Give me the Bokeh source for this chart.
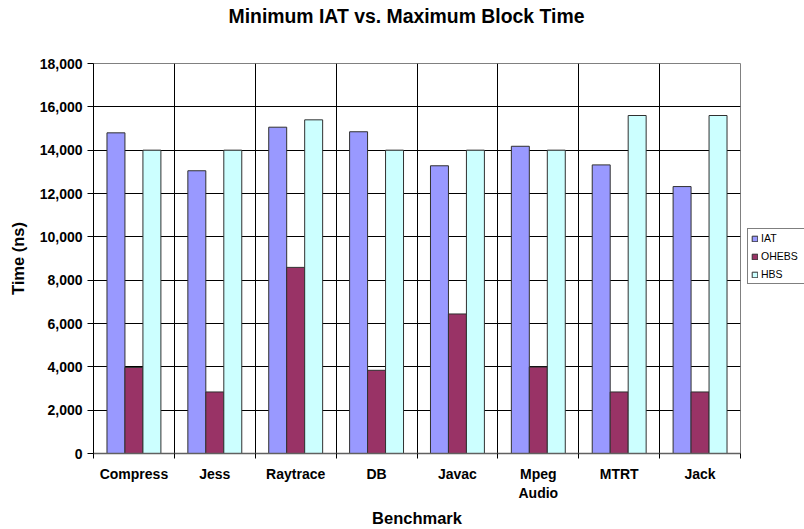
import numpy as np
from bokeh.plotting import figure
from bokeh.models import (ColumnDataSource, Range1d, FixedTicker, NumeralTickFormatter,
                          Legend, LegendItem, Title)
from bokeh.transform import dodge
from bokeh.embed import file_html
from bokeh.resources import INLINE

# ---- data ----
categories = ["Compress", "Jess", "Raytrace", "DB", "Javac", "Mpeg\nAudio", "MTRT", "Jack"]
series_names = ["IAT", "OHEBS", "HBS"]
iat = [14800, 13050, 15060, 14850, 13280, 14180, 13320, 12320]
ohebs = [3970, 2840, 8590, 3840, 6440, 3990, 2840, 2840]
hbs = [14000, 14000, 15400, 14000, 14000, 14000, 15600, 15600]
y_ticks = [0, 2000, 4000, 6000, 8000, 10000, 12000, 14000, 16000, 18000]

FONT = "Liberation Sans"
colors = ["#9999FF", "#993366", "#CCFFFF"]

n = len(categories)
centers = (np.arange(n) + 0.5).tolist()
src = ColumnDataSource(dict(x=centers, IAT=iat, OHEBS=ohebs, HBS=hbs))

p = figure(frame_width=647, frame_height=390,
           min_border_left=93, min_border_right=64, min_border_top=63, min_border_bottom=76,
           x_range=Range1d(0, n), y_range=Range1d(0, 18000),
           output_backend="svg", toolbar_location=None,
           title="Minimum IAT vs. Maximum Block Time")
p.background_fill_color = "white"
p.border_fill_color = "white"
p.outline_line_color = "#808080"
p.outline_line_width = 1

p.title.align = "left"
p.title.offset = 135
p.title.vertical_align = "top"
p.title.standoff = 8
p.title.text_font = FONT
p.title.text_font_style = "bold"
p.title.text_font_size = "19.4px"
p.title.text_color = "black"
# blank spacer between the title and the frame (pushes the title to the top)
spacer = Title(text=" ", text_font_size="10px", text_color="white", standoff=18)
p.add_layout(spacer, "above")

bw = 2.0 / 9.0
offsets = [-bw, 0.0, bw]
renderers = []
for name, col, off in zip(series_names, colors, offsets):
    r = p.vbar(x=dodge("x", off, range=p.x_range), top=name, width=bw, bottom=0,
               source=src, fill_color=col, line_color="#303030", line_width=1)
    renderers.append(r)

# grids
p.xgrid.ticker = FixedTicker(ticks=list(range(1, n)))
p.xgrid.grid_line_color = "black"
p.xgrid.grid_line_width = 1
p.ygrid.ticker = FixedTicker(ticks=y_ticks)
p.ygrid.grid_line_color = "black"
p.ygrid.grid_line_width = 1

# x axis
xa = p.xaxis[0]
xa.ticker = FixedTicker(ticks=centers, minor_ticks=list(range(0, n + 1)))
xa.major_label_overrides = {c: lab for c, lab in zip(centers, categories)}
xa.major_tick_line_color = None
xa.major_tick_in = 0
xa.major_tick_out = 0
xa.minor_tick_line_color = "black"
xa.minor_tick_in = 0
xa.minor_tick_out = 5
xa.axis_line_color = "#606060"
xa.axis_line_width = 1.5
xa.major_label_standoff = 7
xa.major_label_text_font = FONT
xa.major_label_text_font_style = "bold"
xa.major_label_text_font_size = "14px"
xa.major_label_text_color = "black"
xa.axis_label = "Benchmark"
xa.axis_label_text_font = FONT
xa.axis_label_text_font_style = "bold"
xa.axis_label_text_font_size = "16.5px"
xa.axis_label_text_color = "black"
xa.axis_label_standoff = 5

# y axis
ya = p.yaxis[0]
ya.ticker = FixedTicker(ticks=y_ticks)
ya.formatter = NumeralTickFormatter(format="0,0")
ya.axis_line_color = "black"
ya.major_tick_line_color = "black"
ya.major_tick_in = 0
ya.major_tick_out = 6
ya.minor_tick_line_color = None
ya.major_label_standoff = 5
ya.major_label_text_font = FONT
ya.major_label_text_font_style = "bold"
ya.major_label_text_font_size = "14px"
ya.major_label_text_color = "black"
ya.axis_label = "Time (ns)"
ya.axis_label_text_font = FONT
ya.axis_label_text_font_style = "bold"
ya.axis_label_text_font_size = "16.5px"
ya.axis_label_text_color = "black"
ya.axis_label_standoff = 10

# legend (right panel, partly beyond the window edge as in the original)
legend = Legend(items=[LegendItem(label=nm, renderers=[r]) for nm, r in zip(series_names, renderers)],
                location=(7, 169), orientation="vertical",
                glyph_width=7, glyph_height=7, label_height=12, label_width=43, spacing=6,
                padding=3, margin=0, label_standoff=3,
                label_text_font=FONT, label_text_font_size="10.5px", label_text_color="black",
                border_line_color="black", border_line_width=1,
                background_fill_color="white", background_fill_alpha=1)
p.add_layout(legend, "right")

open("out.html", "w").write(file_html(p, INLINE))
